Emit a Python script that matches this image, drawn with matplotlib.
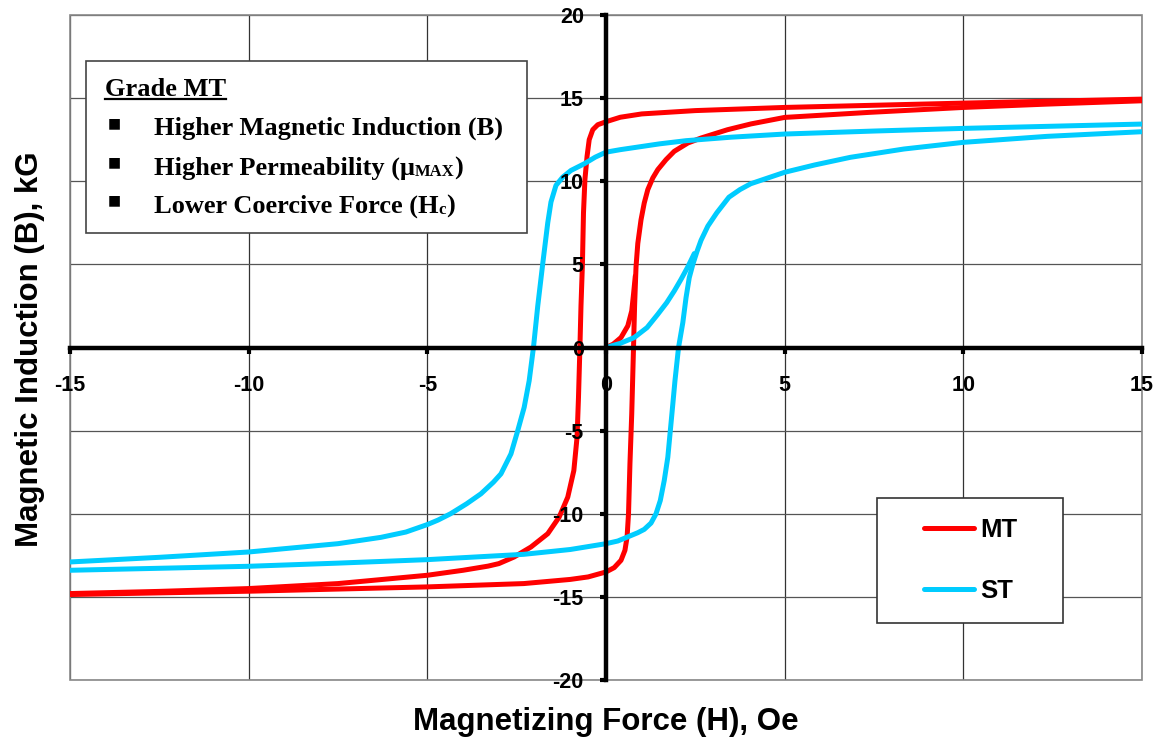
import matplotlib
matplotlib.use("Agg")
import matplotlib.pyplot as plt
from matplotlib.lines import Line2D
from matplotlib.patches import Rectangle
from matplotlib.text import Annotation
from matplotlib.legend_handler import HandlerLine2D

# values (H in Oe, B in kG)
mt_down_h = [15, 12.5, 10, 7.5, 5, 2.5, 1, 0.4, 0, -0.23, -0.37, -0.47, -0.53, -0.59, -0.63, -0.66,
             -0.7, -0.73, -0.77, -0.81, -0.9, -1.07, -1.31, -1.63, -2.1, -2.57, -3.0, -3.3, -4, -5,
             -7.5, -10, -12.5, -15]
mt_down_b = [14.94, 14.82, 14.7, 14.57, 14.44, 14.25, 14.05, 13.85, 13.58, 13.4, 13.1, 12.5, 11.5, 10.1, 8.1, 5.0,
             2.5, 0, -3, -5.4, -7.4, -9, -10.2, -11.2, -12, -12.6, -13.0, -13.15, -13.4, -13.7,
             -14.2, -14.5, -14.67, -14.8]
mt_up_h = [-15, -12.5, -10, -7.5, -5, -2.3, -1, -0.5, 0, 0.23, 0.42, 0.53, 0.59, 0.63, 0.67, 0.72, 0.77,
           0.8, 0.84, 0.89, 0.98, 1.07, 1.17, 1.31, 1.45, 1.68, 1.91, 2.29, 2.66, 3.4, 4.06, 5,
           7.34, 10, 12.34, 15]
mt_up_b = [-14.86, -14.76, -14.66, -14.53, -14.4, -14.2, -13.95, -13.8, -13.5, -13.24, -12.8, -12.2, -11.4, -10, -7, -4, 0,
           2.5, 4.85, 6.26, 7.68, 8.69, 9.5, 10.2, 10.7, 11.3, 11.8, 12.3, 12.6, 13.1, 13.45, 13.84,
           14.14, 14.44, 14.64, 14.84]
mt_init_h = [0, 0.2, 0.42, 0.61, 0.72, 0.77, 0.82]
mt_init_b = [0, 0.2, 0.6, 1.3, 2.2, 3.2, 4.3]

st_down_h = [15, 12.5, 10, 7.5, 5, 3.5, 2.24, 1.5, 0.84, 0.4, 0, -0.3, -0.61, -0.98, -1.21, -1.4, -1.54,
             -1.63, -1.77, -1.91, -2.03, -2.15, -2.29, -2.47, -2.66, -2.94, -3.15, -3.5, -3.9, -4.35,
             -4.7, -5, -5.6, -6.3, -7.5, -10, -12.5, -15]
st_down_b = [13.44, 13.31, 13.18, 13.02, 12.84, 12.65, 12.44, 12.25, 12.04, 11.9, 11.75, 11.45, 11.05, 10.65,
             10.25, 9.75, 8.75, 7.5, 5.05, 2.5, 0, -2, -3.6, -5, -6.4, -7.6, -8.1, -8.8, -9.4, -10,
             -10.38, -10.65, -11.1, -11.42, -11.8, -12.3, -12.62, -12.9]
st_up_h = [-15, -12.5, -10, -7.5, -5, -2.3, -1, 0, 0.33, 0.6, 0.89, 1.07, 1.26, 1.4, 1.52, 1.63, 1.73,
           1.8, 1.87, 1.93, 2.03, 2.15, 2.24, 2.33, 2.43, 2.55, 2.66, 2.85, 3.1, 3.44, 3.75, 4.05, 5,
           5.84, 6.84, 8.34, 10, 12.34, 15]
st_up_b = [-13.4, -13.28, -13.16, -12.97, -12.76, -12.44, -12.15, -11.8, -11.64, -11.4, -11.14, -10.94, -10.56,
           -10, -9.2, -8, -6.6, -5, -3.4, -2, 0, 1.5, 3, 4.2, 5, 5.8, 6.45, 7.3, 8.1, 9.04, 9.5, 9.85, 10.54,
           10.98, 11.44, 11.94, 12.34, 12.7, 12.98]
st_init_h = [0, 0.4, 0.79, 1.15, 1.45, 1.7, 1.91, 2.1, 2.29, 2.47]
st_init_b = [0, 0.25, 0.6, 1.2, 2.0, 2.7, 3.4, 4.1, 4.85, 5.65]

x_ticks = [-15, -10, -5, 0, 5, 10, 15]
y_ticks = [-20, -15, -10, -5, 0, 5, 10, 15, 20]

RED = "#FF0000"
CYAN = "#00CCFF"
W, H = 1161, 746

def fx(x):
    return x / W

def fy(y):
    return 1 - y / H

fig = plt.figure(figsize=(W / 100, H / 100), dpi=100)
ax = fig.add_axes([fx(70), fy(680), 1072 / W, 665 / H])
ax.set_xlim(-15, 15)
ax.set_ylim(-20, 20)
ax.set_axisbelow(False)

# grid
for v in x_ticks:
    ax.axvline(v, color="#333333", lw=0.9, zorder=0)
for v in y_ticks:
    ax.axhline(v, color="#555555", lw=0.9, zorder=0)
ax.add_patch(Rectangle((0, 0), 1, 1, transform=ax.transAxes, fill=False,
                       edgecolor="#888888", lw=1.2, zorder=1, clip_on=False))

lw = 3.6
kw = dict(lw=lw, solid_capstyle="round", solid_joinstyle="round", zorder=2)
ax.plot(mt_down_h, mt_down_b, color=RED, label="MT", **kw)
ax.plot(mt_up_h, mt_up_b, color=RED, **kw)
ax.plot(mt_init_h, mt_init_b, color=RED, **kw)
ax.plot(st_down_h, st_down_b, color=CYAN, label="ST", **kw)
ax.plot(st_up_h, st_up_b, color=CYAN, **kw)
ax.plot(st_init_h, st_init_b, color=CYAN, **kw)

# axes through the origin
for s in ["top", "right"]:
    ax.spines[s].set_visible(False)
ax.spines["left"].set_position(("data", 0))
ax.spines["bottom"].set_position(("data", 0))
for s in ["left", "bottom"]:
    ax.spines[s].set_linewidth(3.2)
    ax.spines[s].set_color("black")
    ax.spines[s].set_zorder(3)
ax.set_xticks(x_ticks)
ax.set_yticks(y_ticks)
ax.set_xticklabels([str(v) for v in x_ticks])
ax.set_yticklabels([str(v) for v in y_ticks])
ax.tick_params(axis="both", direction="out", length=4, width=3, color="black")
ax.tick_params(axis="x", pad=16)
ax.tick_params(axis="y", pad=12)
for lab in ax.get_xticklabels() + ax.get_yticklabels():
    lab.set_fontfamily("Liberation Sans")
    lab.set_fontweight("bold")
    lab.set_fontsize(15.5)

fig.text(fx(606), fy(722), "Magnetizing Force (H), Oe", ha="center", va="center",
         family="Liberation Sans", weight="bold", fontsize=22.5)
fig.text(fx(30), fy(349), "Magnetic Induction (B), kG", ha="center", va="center", rotation=90,
         family="Liberation Sans", weight="bold", fontsize=22.5)

# info box
fig.add_artist(Rectangle((fx(86), fy(233)), 441 / W, 172 / H, transform=fig.transFigure,
                         facecolor="white", edgecolor="#444444", lw=1.2, zorder=5))
serif = dict(family="Liberation Serif", weight="bold", fontsize=19, zorder=6)
title = fig.text(fx(105), fy(96), "Grade MT", va="baseline", **serif)
lines = ["Higher Magnetic Induction (B)", "Higher Permeability (\u03bc", "Lower Coercive Force (H"]
subs = [None, "MAX", "c"]
bases = [135, 175, 213]
bullets = [123, 162, 200]
for txt, sub, yb, yc in zip(lines, subs, bases, bullets):
    fig.text(fx(114), fy(yc), "\u25a0", ha="center", va="center", family="DejaVu Sans",
             fontsize=10, zorder=6)
    t = fig.text(fx(154), fy(yb), txt, va="baseline", **serif)
    if sub:
        s = fig.add_artist(Annotation(sub, xy=(1, 0), xycoords=t, va="bottom", ha="left",
                                      family="Liberation Serif", weight="bold", fontsize=12,
                                      zorder=6, annotation_clip=False))
        fig.add_artist(Annotation(")", xy=(1, 0), xycoords=(s, t), va="bottom", ha="left",
                                  annotation_clip=False, **serif))

fig.canvas.draw()
bb = title.get_window_extent()
fig.add_artist(Line2D([bb.x0, bb.x1], [bb.y0 + 2, bb.y0 + 2], transform=None,
                      color="black", lw=1.6, zorder=6))


class RightLine(HandlerLine2D):
    # draw the sample line in the right part of the handle box only
    def create_artists(self, legend, orig_handle, xdescent, ydescent, width, height, fontsize, trans):
        arts = super().create_artists(legend, orig_handle, xdescent, ydescent, width, height,
                                      fontsize, trans)
        for a in arts:
            xd = list(a.get_xdata())
            if len(xd) >= 2:
                x0 = xd[0] + (xd[-1] - xd[0]) * 0.355
                x1 = xd[-1]
                a.set_xdata([x0 + (x1 - x0) * i / (len(xd) - 1) for i in range(len(xd))])
        return arts


leg = ax.legend(loc="upper left", bbox_to_anchor=(fx(877), fy(621), 186 / W, 123 / H),
                bbox_transform=fig.transFigure, mode="expand", borderaxespad=0,
                frameon=True, fancybox=False, framealpha=1, edgecolor="#333333",
                borderpad=0.78, labelspacing=1.45, handlelength=3.0, handletextpad=0.23,
                handler_map={Line2D: RightLine()},
                prop=dict(family="Liberation Sans", weight="bold", size=18.5))
leg.get_frame().set_linewidth(1.2)

fig.savefig("out.png", dpi=100)
